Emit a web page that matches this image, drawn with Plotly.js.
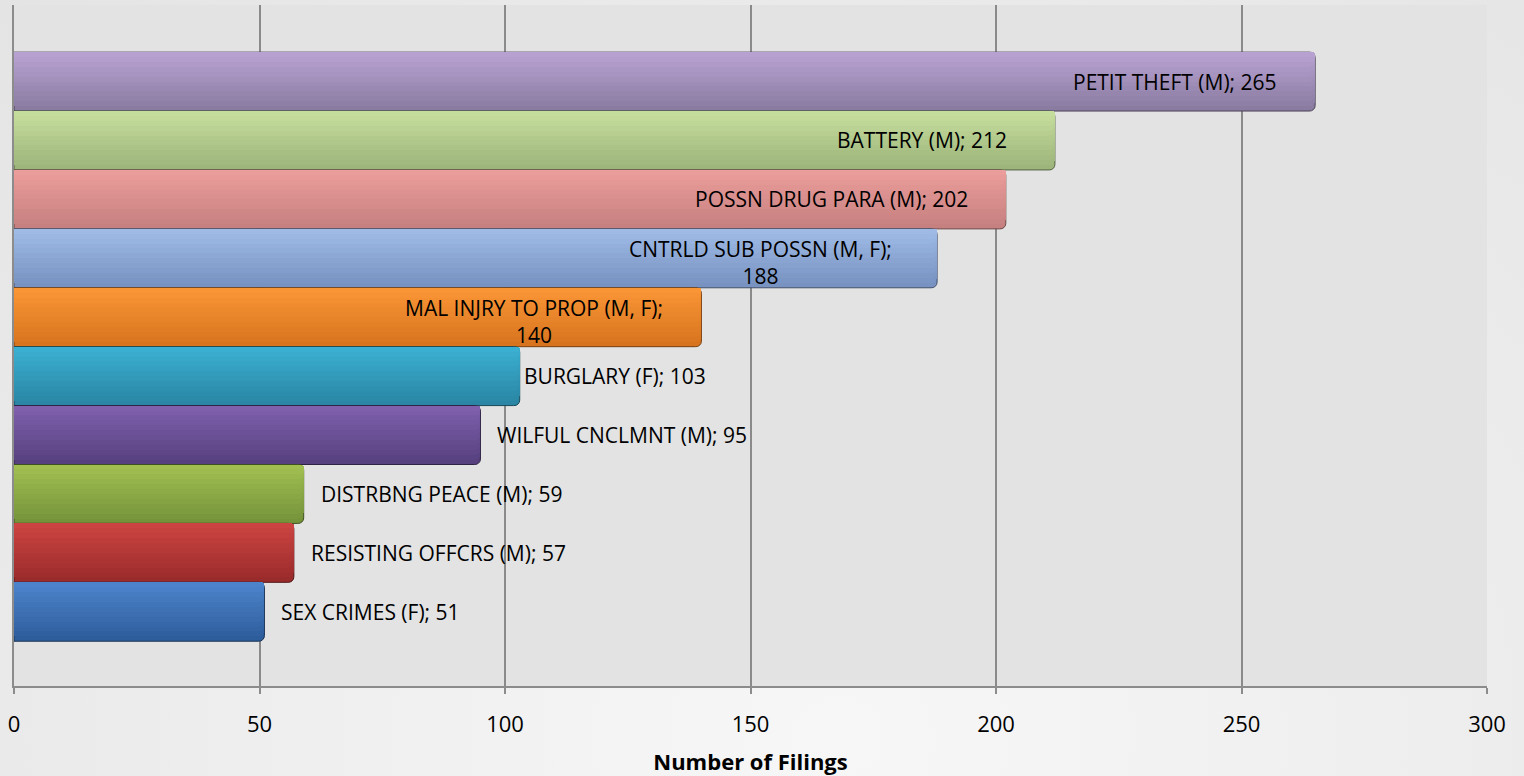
<!DOCTYPE html>
<html>
<head>
<meta charset="utf-8">
<script src="https://cdn.plot.ly/plotly-3.0.1.min.js"></script>
<style>
  html, body { margin: 0; padding: 0; width: 1524px; height: 776px; overflow: hidden;
    background: radial-gradient(ellipse at 55% 95%, #f7f7f7 0%, #efefef 45%, #e4e4e4 100%); }
  #chart { width: 1524px; height: 776px; }
</style>
</head>
<body>
<div id="chart"></div>
<script>
// ---- data (top to bottom) ----
const categories = ["PETIT THEFT (M)", "BATTERY (M)", "POSSN DRUG PARA (M)", "CNTRLD SUB POSSN (M, F)",
  "MAL INJRY TO PROP (M, F)", "BURGLARY (F)", "WILFUL CNCLMNT (M)", "DISTRBNG PEACE (M)",
  "RESISTING OFFCRS (M)", "SEX CRIMES (F)"];
const filings = [265, 212, 202, 188, 140, 103, 95, 59, 57, 51];
const xTickValues = [0, 50, 100, 150, 200, 250, 300];
const axisTitle = "Number of Filings";

// ---- label layout (style, not data) ----
const labelWrapped = [false, false, false, true, true, false, false, false, false, false];
const labelInside  = [true, true, true, true, true, false, false, false, false, false];
const labelShift   = [-36, -46, -36, -43, -36, 2, 15, 15, 15, 15];

// ---- bar colours: top / bottom of each bar ----
const topColors = ["#b9a3d3", "#c7df9d", "#ec9e9b", "#a0bce7", "#fb9636", "#3cb1d3", "#8061af", "#a3c152", "#cd4542", "#4d85cd"];
const botColors = ["#887a9f", "#9bb27a", "#c57f7f", "#7690bf", "#d6721d", "#2984a2", "#553f7c", "#73913a", "#982a2a", "#2d5b99"];

function hexToRgb(h) { const n = parseInt(h.slice(1), 16); return [(n >> 16) & 255, (n >> 8) & 255, n & 255]; }
function mix(a, b, t) {
  const A = hexToRgb(a), B = hexToRgb(b);
  return "rgb(" + A.map((v, i) => Math.round(v + (B[i] - v) * t)).join(",") + ")";
}

const N = 12;
const traces = [];
for (let k = 0; k < N; k++) {
  const frac = (N - k) / N;
  const t = (N - k - 0.5) / N; // position from top of visible strip
  traces.push({
    type: "bar",
    orientation: "h",
    y: categories,
    x: filings,
    width: frac,
    offset: -0.5,
    marker: {
      color: categories.map((_, i) => mix(topColors[i], botColors[i], t)),
      cornerradius: 6,
      line: k === 0 ? { width: 1, color: categories.map((_, i) => mix(botColors[i], "#000000", 0.45)) } : { width: 0 }
    },
    hoverinfo: "skip",
    showlegend: false
  });
}

const annotations = categories.map((c, i) => ({
  x: filings[i],
  y: c,
  xref: "x", yref: "y",
  text: c + ";" + (labelWrapped[i] ? "<br>" : " ") + filings[i],
  showarrow: false,
  xanchor: labelInside[i] ? "right" : "left",
  xshift: labelShift[i],
  yshift: labelWrapped[i] ? -4 : 0,
  align: "center",
  font: { family: "Open Sans", size: 21, color: "#000000" }
}));

const layout = {
  width: 1524, height: 776,
  margin: { l: 14, r: 37, t: 5, b: 90 },
  paper_bgcolor: "rgba(0,0,0,0)",
  plot_bgcolor: "#e3e3e3",
  barmode: "overlay",
  bargap: 0,
  font: { family: "Open Sans", color: "#000000" },
  xaxis: {
    range: [0, 300],
    tickvals: xTickValues,
    showgrid: true, gridcolor: "#8a8a8a", gridwidth: 2,
    zeroline: false,
    showline: true, linecolor: "#8c8c8c", linewidth: 2,
    ticks: "outside", ticklen: 6, tickcolor: "#8c8c8c", tickwidth: 2,
    ticklabelstandoff: 12,
    tickfont: { family: "Open Sans", size: 22, color: "#000000" },
    title: { text: axisTitle, font: { family: "Open Sans", size: 22, color: "#000000", weight: "bold" }, standoff: 17 }
  },
  yaxis: {
    type: "category",
    range: [10.26, -1.3],
    showticklabels: false,
    showgrid: false, zeroline: false,
    showline: true, linecolor: "#8c8c8c", linewidth: 2,
    ticks: ""
  },
  annotations: annotations
};

Plotly.newPlot("chart", traces, layout, { displayModeBar: false, staticPlot: true });
</script>
</body>
</html>
